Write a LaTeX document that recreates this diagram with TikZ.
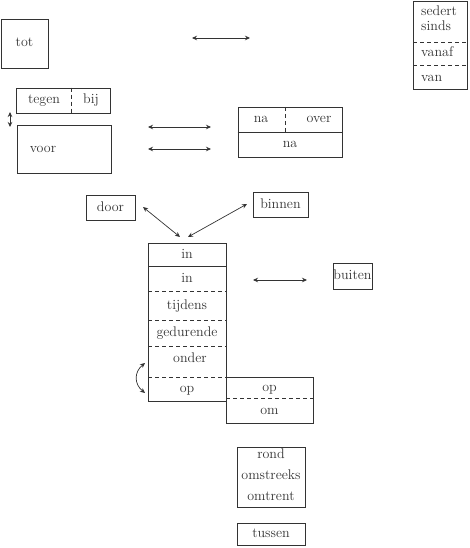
\documentclass[tikz,border=0pt]{standalone}
\usetikzlibrary{arrows.meta,calc}
\definecolor{ink}{gray}{0.2}
\begin{document}
\begin{tikzpicture}[x=1pt,y=-1pt,
  box/.style={draw=ink, line width=0.7pt, inner sep=0pt},
  lbl/.style={inner sep=0pt, text=ink, font=\fontsize{14}{16}\selectfont, text height=9.5pt, text depth=2.5pt},
  div/.style={draw=ink, line width=0.7pt},
  ddiv/.style={draw=ink, line width=0.7pt, dash pattern=on 4pt off 3pt},
  link/.style={draw=ink, line width=0.7pt, {Stealth[length=5pt,width=4.5pt]}-{Stealth[length=5pt,width=4.5pt]}}]
\useasboundingbox (0,0) rectangle (470,548);

% tot
\node[box, minimum width=47pt, minimum height=49pt] (tot) at (24.5,43.5) {};
\node[lbl] (tottxt) at (tot) {tot};

% tegen | bij
\node[box, minimum width=94pt, minimum height=25pt] (tb) at (63,100.5) {};
\draw[ddiv] ($(tb.north west)+(56,0)$) -- ($(tb.south west)+(56,0)$);
\node[lbl] (tegen) at (44,100.5) {tegen};
\node[lbl] (bij) at (91,100.5) {bij};

% voor
\node[box, minimum width=94pt, minimum height=48pt] (voor) at (64,149) {};
\node[lbl] (voortxt) at (43,149) {voor};
\coordinate (va1) at (10,112);
\coordinate (va2) at (10,127);
\draw[link] (va1) -- (va2);

% top arrow
\coordinate (a1) at (192,38);
\coordinate (a2) at (250,38);
\draw[link] (a1) -- (a2);

% sedert box
\node[box, minimum width=54pt, minimum height=88pt] (sed) at (440,45) {};
\draw[ddiv] (413,42) -- (467,42);
\draw[ddiv] (413,65) -- (467,65);
\node[lbl, anchor=west] (sedert) at (421,12) {sedert};
\node[lbl, anchor=west] (sinds) at (421,27.5) {sinds};
\node[lbl, anchor=west] (vanaf) at (421,53.5) {vanaf};
\node[lbl, anchor=west] (van) at (421,78) {van};

% arrows voor <-> na
\coordinate (b1) at (148,127);
\coordinate (b2) at (211,127);
\coordinate (c1) at (148,149);
\coordinate (c2) at (211,149);
\draw[link] (b1) -- (b2);
\draw[link] (c1) -- (c2);

% na | over / na
\node[box, minimum width=104pt, minimum height=50pt] (nabox) at (290,132) {};
\draw[div] (nabox.west) -- (nabox.east);
\draw[ddiv] (285,107) -- (285,132);
\node[lbl] (na1) at (261,119.5) {na};
\node[lbl] (over) at (319,119.5) {over};
\node[lbl] (na2) at (290,144.5) {na};

% door, binnen
\node[box, minimum width=49pt, minimum height=25pt] (door) at (110.5,207.5) {};
\node[lbl] (doortxt) at (door) {door};
\node[box, minimum width=55pt, minimum height=25pt] (binnen) at (280.5,204.5) {};
\node[lbl] (binnentxt) at (binnen) {binnen};

% central column
\node[box, minimum width=78pt, minimum height=158pt] (col) at (187,322) {};
\coordinate (d1s) at (143,207);
\coordinate (d1e) at (180,237);
\coordinate (d2s) at (247,204);
\coordinate (d2e) at (188,237);
\draw[link] (d1s) -- (d1e);
\draw[link] (d2s) -- (d2e);
\draw[div] (148,266) -- (226,266);
\draw[ddiv] (148,291) -- (226,291);
\draw[ddiv] (148,320) -- (226,320);
\draw[ddiv] (148,346) -- (226,346);
\draw[ddiv] (148,377) -- (226,377);
\node[lbl] (in1) at (187,254.5) {in};
\node[lbl] (in2) at (187,279) {in};
\node[lbl] (tijdens) at (187,305.5) {tijdens};
\node[lbl] (gedurende) at (187,333) {gedurende};
\node[lbl] (onder) at (190,358.5) {onder};
\node[lbl] (op1) at (187,388.5) {op};

% op / om box
\node[box, minimum width=87pt, minimum height=46pt] (rb) at (269.5,400) {};
\draw[ddiv] (226,398) -- (313,398);
\node[lbl] (op2) at (269.5,387.5) {op};
\node[lbl] (om) at (269.5,411) {om};

% curved arrow
\coordinate (k1) at (145,363);
\coordinate (k2) at (145,393);
\draw[link] (k1) .. controls (134,372) and (134,384) .. (k2);

% buiten
\coordinate (e1) at (253,280);
\coordinate (e2) at (307,280);
\draw[link] (e1) -- (e2);
\node[box, minimum width=39pt, minimum height=26pt] (buiten) at (352.5,276) {};
\node[lbl] (buitentxt) at (buiten) {buiten};

% rond box
\node[box, minimum width=68pt, minimum height=60pt] (rond) at (271,477) {};
\node[lbl] (rondtxt) at (271,455) {rond};
\node[lbl] (omstreeks) at (271,476) {omstreeks};
\node[lbl] (omtrent) at (271,497) {omtrent};

% tussen
\node[box, minimum width=68pt, minimum height=22pt] (tussen) at (271,534) {};
\node[lbl] (tussentxt) at (tussen) {tussen};
\end{tikzpicture}
\end{document}
